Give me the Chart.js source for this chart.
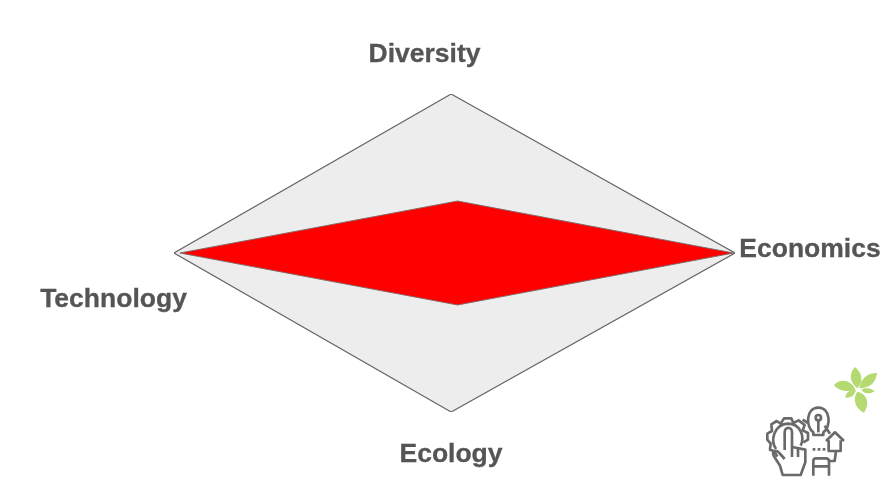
<!DOCTYPE html>
<html>
<head>
<meta charset="utf-8">
<style>
html,body{margin:0;padding:0;background:#fff;overflow:hidden}
#wrap{position:relative;width:883px;height:483px}
canvas{display:block}
#icon{position:absolute;left:750px;top:355px}
</style>
<script src="https://cdn.jsdelivr.net/npm/chart.js@4"></script>
</head>
<body>
<div id="wrap">
<canvas id="c" width="883" height="483"></canvas>
<svg id="icon" width="133" height="128" viewBox="0 0 399 384" aria-hidden="true">
<g fill="#b6da72">
<path d="M322,100C296,80 298,52 315,36C336,52 342,80 322,100Z"/>
<path d="M328,100C332,72 350,54 381,54C378,84 358,100 328,100Z"/>
<path d="M316,104C290,112 266,108 252,90C272,68 304,76 316,104Z"/>
<path d="M318,106C312,124 300,130 286,128C288,112 300,102 318,106Z"/>
<path d="M334,104C348,96 364,100 374,108C362,118 344,118 334,104Z"/>
<path d="M322,110C352,116 360,146 342,173C316,160 306,132 322,110Z"/>
</g>
<g fill="none" stroke="#6a6a6a" stroke-width="8" stroke-linejoin="round">
<path d="M82,305L72,288L60,284L62,266L52,254L52,236L66,228L64,208L80,198L92,206L102,190L124,190L130,204L146,196L164,210L158,226L174,234L174,254L160,262"/>
<path d="M78,282C60,256 72,208 114,206C150,206 166,244 152,272"/>
<path d="M104,285L104,232C104,214 126,214 126,232L126,276L166,284L166,322L152,360L98,360L90,332L72,304C64,290 78,282 88,294L104,312"/>
<path d="M144,280L144,306M126,276L126,306"/>
<path d="M190,232C166,215 168,158 205,158C242,158 244,215 220,232L220,240L190,240Z"/>
<circle cx="205" cy="188" r="8"/>
<path d="M205,196L205,232"/>
<path d="M224,212L240,236M158,194L174,204"/>
<path d="M228,258L255,232L282,258M236,256L236,288L272,288L272,256"/>
<path d="M258,288L254,318L238,318"/>
<path d="M190,362L190,318C190,312 194,310 198,310L228,310C234,310 237,314 237,320L237,362M190,334L237,334"/>
<path d="M188,283L196,283M203,283L211,283M218,283L226,283"/>
</g>
</svg>
</div>
<script>
const categories = ["Diversity", "Economics", "Ecology", "Technology"];
const rangeX = [-1.2, 100, -1.2, -100, -1.2];
const rangeY = [100, 0, -100, 0, 100];
const valueX = [1.1, 99.5, 1.1, -97.9, 1.1];
const valueY = [32.7, 0, -32.7, 0, 32.7];

const pts = (xs, ys) => xs.map((x, i) => ({x, y: ys[i]}));
const labelPos = [
  {x: 424.5, y: 61.5},
  {x: 810, y: 256.5},
  {x: 451, y: 461.5},
  {x: 113.5, y: 306.5}
];
const labelPlugin = {
  id: 'labels',
  afterDraw(chart) {
    const ctx = chart.ctx;
    ctx.save();
    ctx.font = 'bold 26.5px "Liberation Sans", Arial, sans-serif';
    ctx.fillStyle = '#555555';
    ctx.strokeStyle = '#555555';
    ctx.lineWidth = 0.3;
    ctx.textAlign = 'center';
    ctx.textBaseline = 'alphabetic';
    categories.forEach((t, i) => {
      ctx.fillText(t, labelPos[i].x, labelPos[i].y);
      ctx.strokeText(t, labelPos[i].x, labelPos[i].y);
    });
    ctx.restore();
  }
};
new Chart(document.getElementById('c'), {
  type: 'scatter',
  data: {
    datasets: [
      {
        label: 'Value',
        data: pts(valueX, valueY),
        showLine: true,
        tension: 0,
        fill: 'shape',
        backgroundColor: '#ff0000',
        borderColor: '#7a6a6a',
        borderWidth: 0.9,
        pointRadius: 0,
        order: 1
      },
      {
        label: 'Range',
        data: pts(rangeX, rangeY),
        showLine: true,
        tension: 0,
        fill: 'shape',
        backgroundColor: '#ededed',
        borderColor: '#666666',
        borderWidth: 1.2,
        pointRadius: 0,
        order: 2
      }
    ]
  },
  options: {
    responsive: false,
    animation: false,
    layout: {padding: {left: 174, right: 148, top: 94, bottom: 71}},
    plugins: {legend: {display: false}, tooltip: {enabled: false},
      filler: {propagate: false}},
    scales: {
      x: {type: 'linear', min: -100, max: 100, display: false},
      y: {type: 'linear', min: -100, max: 100, display: false}
    }
  },
  plugins: [labelPlugin]
});
</script>
</body>
</html>
